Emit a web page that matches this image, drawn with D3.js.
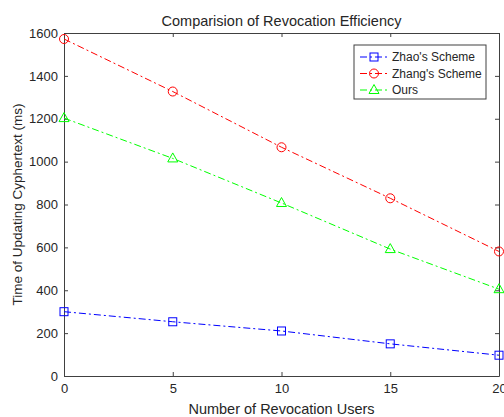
<!DOCTYPE html>
<html>
<head>
<meta charset="utf-8">
<script src="https://cdn.jsdelivr.net/npm/d3@7"></script>
<style>
  body { margin: 0; background: #fff; }
  text { font-family: "Liberation Sans", Arial, sans-serif; fill: #262626; }
</style>
</head>
<body>
<svg width="504" height="417"></svg>
<script>
// chart data
const users = [0, 5, 10, 15, 20];
const zhao = [300, 253, 210, 150, 97];
const zhang = [1572, 1327, 1067, 829, 581];
const ours = [1203, 1015, 807, 592, 405];
const xTicks = [0, 5, 10, 15, 20];
const yTicks = [0, 200, 400, 600, 800, 1000, 1200, 1400, 1600];

const series = [
  {name: "Zhao's Scheme", values: zhao, color: '#0000ff', marker: 'square'},
  {name: "Zhang's Scheme", values: zhang, color: '#ff0000', marker: 'circle'},
  {name: 'Ours', values: ours, color: '#00ff00', marker: 'triangle'}
];

const svg = d3.select('svg');
const width = +svg.attr('width');
const height = +svg.attr('height');

const margin = {top: 33, right: 5, bottom: 41, left: 64};
const innerWidth = width - margin.left - margin.right;
const innerHeight = height - margin.top - margin.bottom;

const xScale = d3.scaleLinear().domain([0, 20]).range([0, innerWidth]);
const yScale = d3.scaleLinear().domain([0, 1600]).range([innerHeight, 0]);

const g = svg.append('g')
  .attr('transform', `translate(${margin.left},${margin.top})`);

const axisColor = '#404040';

// axes, ticks pointing inward like matlab
const styleAxis = sel => {
  sel.select('.domain').attr('stroke', axisColor).attr('stroke-width', 1);
  sel.selectAll('.tick line').attr('stroke', axisColor);
  sel.selectAll('.tick text').style('font-size', '13px').attr('fill', '#262626')
    .attr('font-family', null);
};

g.append('g')
  .attr('transform', `translate(0,${innerHeight})`)
  .call(d3.axisBottom(xScale).tickValues(xTicks).tickSizeInner(-4).tickSizeOuter(0).tickPadding(8))
  .call(styleAxis);

g.append('g')
  .call(d3.axisLeft(yScale).tickValues(yTicks).tickFormat(d3.format('d'))
    .tickSizeInner(-4).tickSizeOuter(0).tickPadding(6))
  .call(styleAxis);

// top and right box edges with ticks, no labels
g.append('g')
  .call(d3.axisTop(xScale).tickValues(xTicks).tickSizeInner(-4).tickSizeOuter(0))
  .call(styleAxis)
  .call(a => a.selectAll('.tick text').remove());
g.append('g')
  .attr('transform', `translate(${innerWidth},0)`)
  .call(d3.axisRight(yScale).tickValues(yTicks).tickSizeInner(-4).tickSizeOuter(0))
  .call(styleAxis)
  .call(a => a.selectAll('.tick text').remove());

const line = d3.line()
  .x((d, i) => xScale(users[i]))
  .y(d => yScale(d));

const drawMarker = (sel, type, color) => {
  if (type === 'square') {
    sel.append('rect').attr('x', -4).attr('y', -4).attr('width', 8).attr('height', 8);
  } else if (type === 'circle') {
    sel.append('circle').attr('r', 4.5);
  } else {
    sel.append('path').attr('d', 'M0,-5.5L5,3.5L-5,3.5Z');
  }
  sel.selectAll('*').attr('fill', 'none').attr('stroke', color).attr('stroke-width', 1);
};

series.forEach(s => {
  g.append('path')
    .datum(s.values)
    .attr('d', line)
    .attr('fill', 'none')
    .attr('stroke', s.color)
    .attr('stroke-width', 1)
    .attr('stroke-dasharray', '7,3,2,3');

  s.values.forEach((v, i) => {
    g.append('g')
      .attr('transform', `translate(${xScale(users[i])},${yScale(v)})`)
      .call(m => drawMarker(m, s.marker, s.color));
  });
});

// legend
const legend = svg.append('g').attr('transform', 'translate(354,45)');
legend.append('rect')
  .attr('width', 132).attr('height', 54)
  .attr('fill', '#fff').attr('stroke', axisColor).attr('stroke-width', 1);

series.forEach((s, i) => {
  const row = legend.append('g').attr('transform', `translate(0,${12 + i * 16.5})`);
  row.append('line')
    .attr('x1', 6).attr('x2', 34)
    .attr('stroke', s.color).attr('stroke-dasharray', '7,3,2,3');
  row.append('g').attr('transform', 'translate(20,0)')
    .call(m => drawMarker(m, s.marker, s.color));
  row.append('text')
    .attr('x', 38).attr('dy', '0.35em')
    .style('font-size', '12px')
    .text(s.name);
});

// title and axis labels
svg.append('text')
  .attr('x', margin.left + innerWidth / 2).attr('y', 26)
  .attr('text-anchor', 'middle')
  .style('font-size', '14.5px')
  .text('Comparision of Revocation Efficiency');

svg.append('text')
  .attr('x', margin.left + innerWidth / 2).attr('y', 414)
  .attr('text-anchor', 'middle')
  .style('font-size', '14.5px')
  .text('Number of Revocation Users');

svg.append('text')
  .attr('transform', `translate(22,${margin.top + innerHeight / 2}) rotate(-90)`)
  .attr('text-anchor', 'middle')
  .style('font-size', '13.5px')
  .text('Time of Updating Cyphertext  (ms)');
</script>
</body>
</html>
